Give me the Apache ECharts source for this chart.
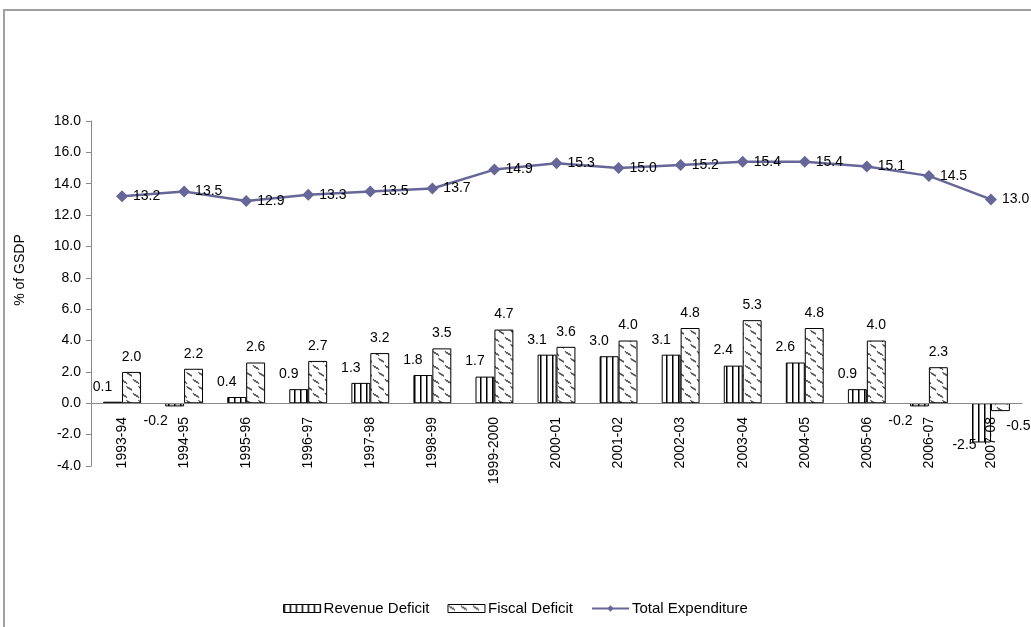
<!DOCTYPE html>
<html>
<head>
<meta charset="utf-8">
<script src="https://cdn.jsdelivr.net/npm/echarts@6/dist/echarts.min.js"></script>
<style>
  html, body { margin: 0; padding: 0; background: #fff; }
  #chart { width: 1031px; height: 627px; }
</style>
</head>
<body>
<div id="chart"></div>
<script>
// Fiscal indicators, % of GSDP
const years = ['1993-94', '1994-95', '1995-96', '1996-97', '1997-98', '1998-99', '1999-2000',
  '2000-01', '2001-02', '2002-03', '2003-04', '2004-05', '2005-06', '2006-07', '2007-08'];
const revenueDeficit = [0.1, -0.2, 0.4, 0.9, 1.3, 1.8, 1.7, 3.1, 3.0, 3.1, 2.4, 2.6, 0.9, -0.2, -2.5];
const fiscalDeficit = [2.0, 2.2, 2.6, 2.7, 3.2, 3.5, 4.7, 3.6, 4.0, 4.8, 5.3, 4.8, 4.0, 2.3, -0.5];
const totalExpenditure = [13.2, 13.5, 12.9, 13.3, 13.5, 13.7, 14.9, 15.3, 15.0, 15.2, 15.4, 15.4, 15.1, 14.5, 13.0];

const FONT = '"Liberation Sans", Arial, sans-serif';

// Vertical-stripe fill for revenue deficit bars
function stripePattern() {
  const c = document.createElement('canvas');
  c.width = 6; c.height = 6;
  const g = c.getContext('2d');
  g.fillStyle = '#fff'; g.fillRect(0, 0, 6, 6);
  g.fillStyle = '#000'; g.fillRect(0, 0, 1.5, 6);
  return c;
}
// Groups of short diagonal strokes for fiscal deficit bars
function dashPattern() {
  const c = document.createElement('canvas');
  c.width = 12; c.height = 14;
  const g = c.getContext('2d');
  g.fillStyle = '#fff'; g.fillRect(0, 0, 12, 14);
  g.strokeStyle = '#444'; g.lineWidth = 1.1;
  const group = (ox, oy) => {
    for (let k = 0; k < 3; k++) {
      g.moveTo(ox + k * 2, oy + k * 1.2);
      g.lineTo(ox + k * 2 + 2, oy + k * 1.2 + 2.6);
    }
  };
  g.beginPath();
  group(1, 1);
  group(6.5, 8);
  g.stroke();
  return c;
}

const fmt = p => Number(p.value).toFixed(1);

function barData(values, posOffset, negOffset) {
  return values.map(v => {
    if (v >= 0) return { value: v, label: { position: 'top', offset: posOffset } };
    return { value: v, label: { position: 'bottom', offset: negOffset(v) } };
  });
}

const chart = echarts.init(document.getElementById('chart'), null, { renderer: 'canvas' });
chart.setOption({
  animation: false,
  backgroundColor: '#fff',
  textStyle: { fontFamily: FONT },
  graphic: [
    { type: 'rect', silent: true, shape: { x: 4, y: 10, width: 1100, height: 700 },
      style: { fill: 'none', stroke: '#a0a0a0', lineWidth: 2 } },
    { type: 'text', x: 20, y: 270, rotation: Math.PI / 2,
      style: { text: '% of GSDP', font: '14px ' + FONT, fill: '#000', align: 'center', verticalAlign: 'middle' } }
  ],
  grid: { left: 91, right: 9, top: 121, bottom: 161, containLabel: false },
  legend: {
    bottom: 6, left: 'center', itemGap: 18, itemWidth: 37, itemHeight: 8,
    textStyle: { fontFamily: FONT, fontSize: 15, color: '#000', padding: [0, 0, 0, -2] },
    data: [
      { name: 'Revenue Deficit', icon: 'rect', itemStyle: { borderWidth: 1 } },
      { name: 'Fiscal Deficit', icon: 'rect', itemStyle: { borderWidth: 1 } },
      { name: 'Total Expenditure' }
    ]
  },
  xAxis: {
    type: 'category', data: years, z: 3,
    axisLine: { onZero: true, lineStyle: { color: '#888', width: 1 } },
    axisTick: { show: false },
    axisLabel: { rotate: 90, interval: 0, margin: -49, color: '#000', fontSize: 14, fontFamily: FONT }
  },
  yAxis: {
    type: 'value', min: -4, max: 18, interval: 2,
    axisLine: { show: true, lineStyle: { color: '#888' } },
    axisTick: { show: true, length: 5, lineStyle: { color: '#888' } },
    splitLine: { show: false },
    axisLabel: { formatter: v => v.toFixed(1), color: '#000', fontSize: 14, fontFamily: FONT, margin: 10 }
  },
  series: [
    {
      name: 'Revenue Deficit', type: 'bar', barGap: '0%', barCategoryGap: '39%',
      data: barData(revenueDeficit, [-10, 0], v => v < -1 ? [-17, -12] : [-19, 0]),
      itemStyle: { color: { image: stripePattern(), repeat: 'repeat' }, borderColor: '#000', borderWidth: 1 },
      label: { show: true, distance: 8, formatter: fmt, color: '#000', fontSize: 14, fontFamily: FONT }
    },
    {
      name: 'Fiscal Deficit', type: 'bar',
      data: barData(fiscalDeficit, [0, 0], () => [18, 0]),
      itemStyle: { color: { image: dashPattern(), repeat: 'repeat' }, borderColor: '#000', borderWidth: 1 },
      label: { show: true, distance: 8, formatter: fmt, color: '#000', fontSize: 14, fontFamily: FONT }
    },
    {
      name: 'Total Expenditure', type: 'line', data: totalExpenditure,
      symbol: 'diamond', symbolSize: 12,
      lineStyle: { color: '#666699', width: 2.5 },
      itemStyle: { color: '#666699' },
      label: { show: true, position: 'right', distance: 5, formatter: fmt, color: '#000', fontSize: 14, fontFamily: FONT }
    }
  ]
});
</script>
</body>
</html>
